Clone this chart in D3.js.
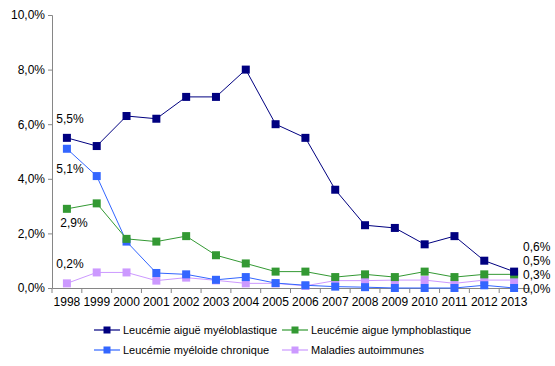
<!DOCTYPE html>
<html><head><meta charset="utf-8">
<script src="https://cdn.jsdelivr.net/npm/d3@7/dist/d3.min.js"></script>
<style>body{margin:0;background:#fff}svg{display:block;font-family:"Liberation Sans",Arial,sans-serif}</style>
</head><body><svg id="c" width="555" height="366"></svg>
<script>
const years = ["1998","1999","2000","2001","2002","2003","2004","2005","2006","2007","2008","2009","2010","2011","2012","2013"];
const seriesNames = ["Leucémie aiguë myéloblastique","Leucémie aigue lymphoblastique","Leucémie myéloide chronique","Maladies autoimmunes"];
const aml = [5.5,5.2,6.3,6.2,7.0,7.0,8.0,6.0,5.5,3.6,2.3,2.2,1.6,1.9,1.0,0.6];
const all = [2.9,3.1,1.8,1.7,1.9,1.2,0.9,0.6,0.6,0.4,0.5,0.4,0.6,0.4,0.5,0.5];
const cml = [5.1,4.1,1.7,0.55,0.5,0.3,0.4,0.18,0.1,0.05,0.03,0.0,0.0,0.0,0.1,0.0];
const autoimm = [0.17,0.57,0.57,0.27,0.38,0.28,0.17,0.17,0.08,0.27,0.27,0.29,0.29,0.17,0.29,0.29];
const colors = ["#000080","#339933","#3366ff","#cc99ff"];
const yTicks = [0,2,4,6,8,10];
const startLabels = [{s:0,t:"5,5%"},{s:2,t:"5,1%"},{s:1,t:"2,9%"},{s:3,t:"0,2%"}];
const endLabels = ["0,6%","0,5%","0,3%","0,0%"];

const svg = d3.select("#c");
const L=52, R=529, T=15, B=288;
const x = d3.scaleBand().domain(years).range([L,R]);
const y = d3.scaleLinear().domain([0,10]).range([B,T]);
const fmt = v => d3.format(".1f")(v).replace(".",",")+"%";

// y axis
const ya = svg.append("g").attr("transform",`translate(${L},0)`)
  .call(d3.axisLeft(y).tickValues(yTicks).tickFormat(fmt).tickSize(4).tickPadding(3));
ya.select(".domain").attr("stroke","#868686");
ya.selectAll(".tick line").attr("stroke","#868686");
ya.selectAll("text").attr("font-size",12).attr("fill","#000").attr("font-family","Liberation Sans, Arial");

// x axis
const xa = svg.append("g").attr("transform",`translate(0,${B})`)
  .call(d3.axisBottom(x).tickSize(0).tickPadding(9));
xa.select(".domain").attr("stroke","#868686");
xa.selectAll("text").attr("font-size",12).attr("fill","#000").attr("font-family","Liberation Sans, Arial");
xa.selectAll(".sep").data(d3.range(years.length+1)).enter().append("line")
  .attr("x1",i=>L+i*x.step()).attr("x2",i=>L+i*x.step()).attr("y1",0).attr("y2",5).attr("stroke","#868686");

const data = [aml, all, cml, autoimm];
const line = d3.line().x((d,i)=>x(years[i])+x.bandwidth()/2).y(d=>y(d));
const order = [3,2,1,0];
order.forEach(s=>{
  const g = svg.append("g");
  g.append("path").attr("d",line(data[s])).attr("fill","none").attr("stroke",colors[s]).attr("stroke-width",1);
  g.selectAll("rect").data(data[s]).enter().append("rect")
    .attr("x",(d,i)=>x(years[i])+x.bandwidth()/2-4).attr("y",d=>y(d)-4)
    .attr("width",8).attr("height",8).attr("fill",colors[s]);
});

// data labels
const lab = svg.append("g").attr("font-size",12).attr("fill","#000");
const offs = {0:-19,2:20,1:14,3:-19};
startLabels.forEach(l=>{
  lab.append("text").attr("x",x(years[0])+x.bandwidth()/2 + (l.s==1?7:3)).attr("y",y(data[l.s][0])+offs[l.s]+4)
    .attr("text-anchor","middle").text(l.t);
});
const endY = [247,261,275,289];
endLabels.forEach((t,i)=>{
  lab.append("text").attr("x",523).attr("y",endY[i]+4).text(t);
});

// legend
const leg = svg.append("g").attr("font-size",11);
seriesNames.forEach((n,i)=>{
  const lx = i%2==0?94:282, ly = i<2?330:350;
  leg.append("line").attr("x1",lx).attr("x2",lx+26).attr("y1",ly).attr("y2",ly).attr("stroke",colors[i]).attr("stroke-width",1.2);
  leg.append("rect").attr("x",lx+13-3.5).attr("y",ly-3.5).attr("width",7).attr("height",7).attr("fill",colors[i]);
  leg.append("text").attr("x",lx+29).attr("y",ly+4).text(n);
});
</script></body></html>
